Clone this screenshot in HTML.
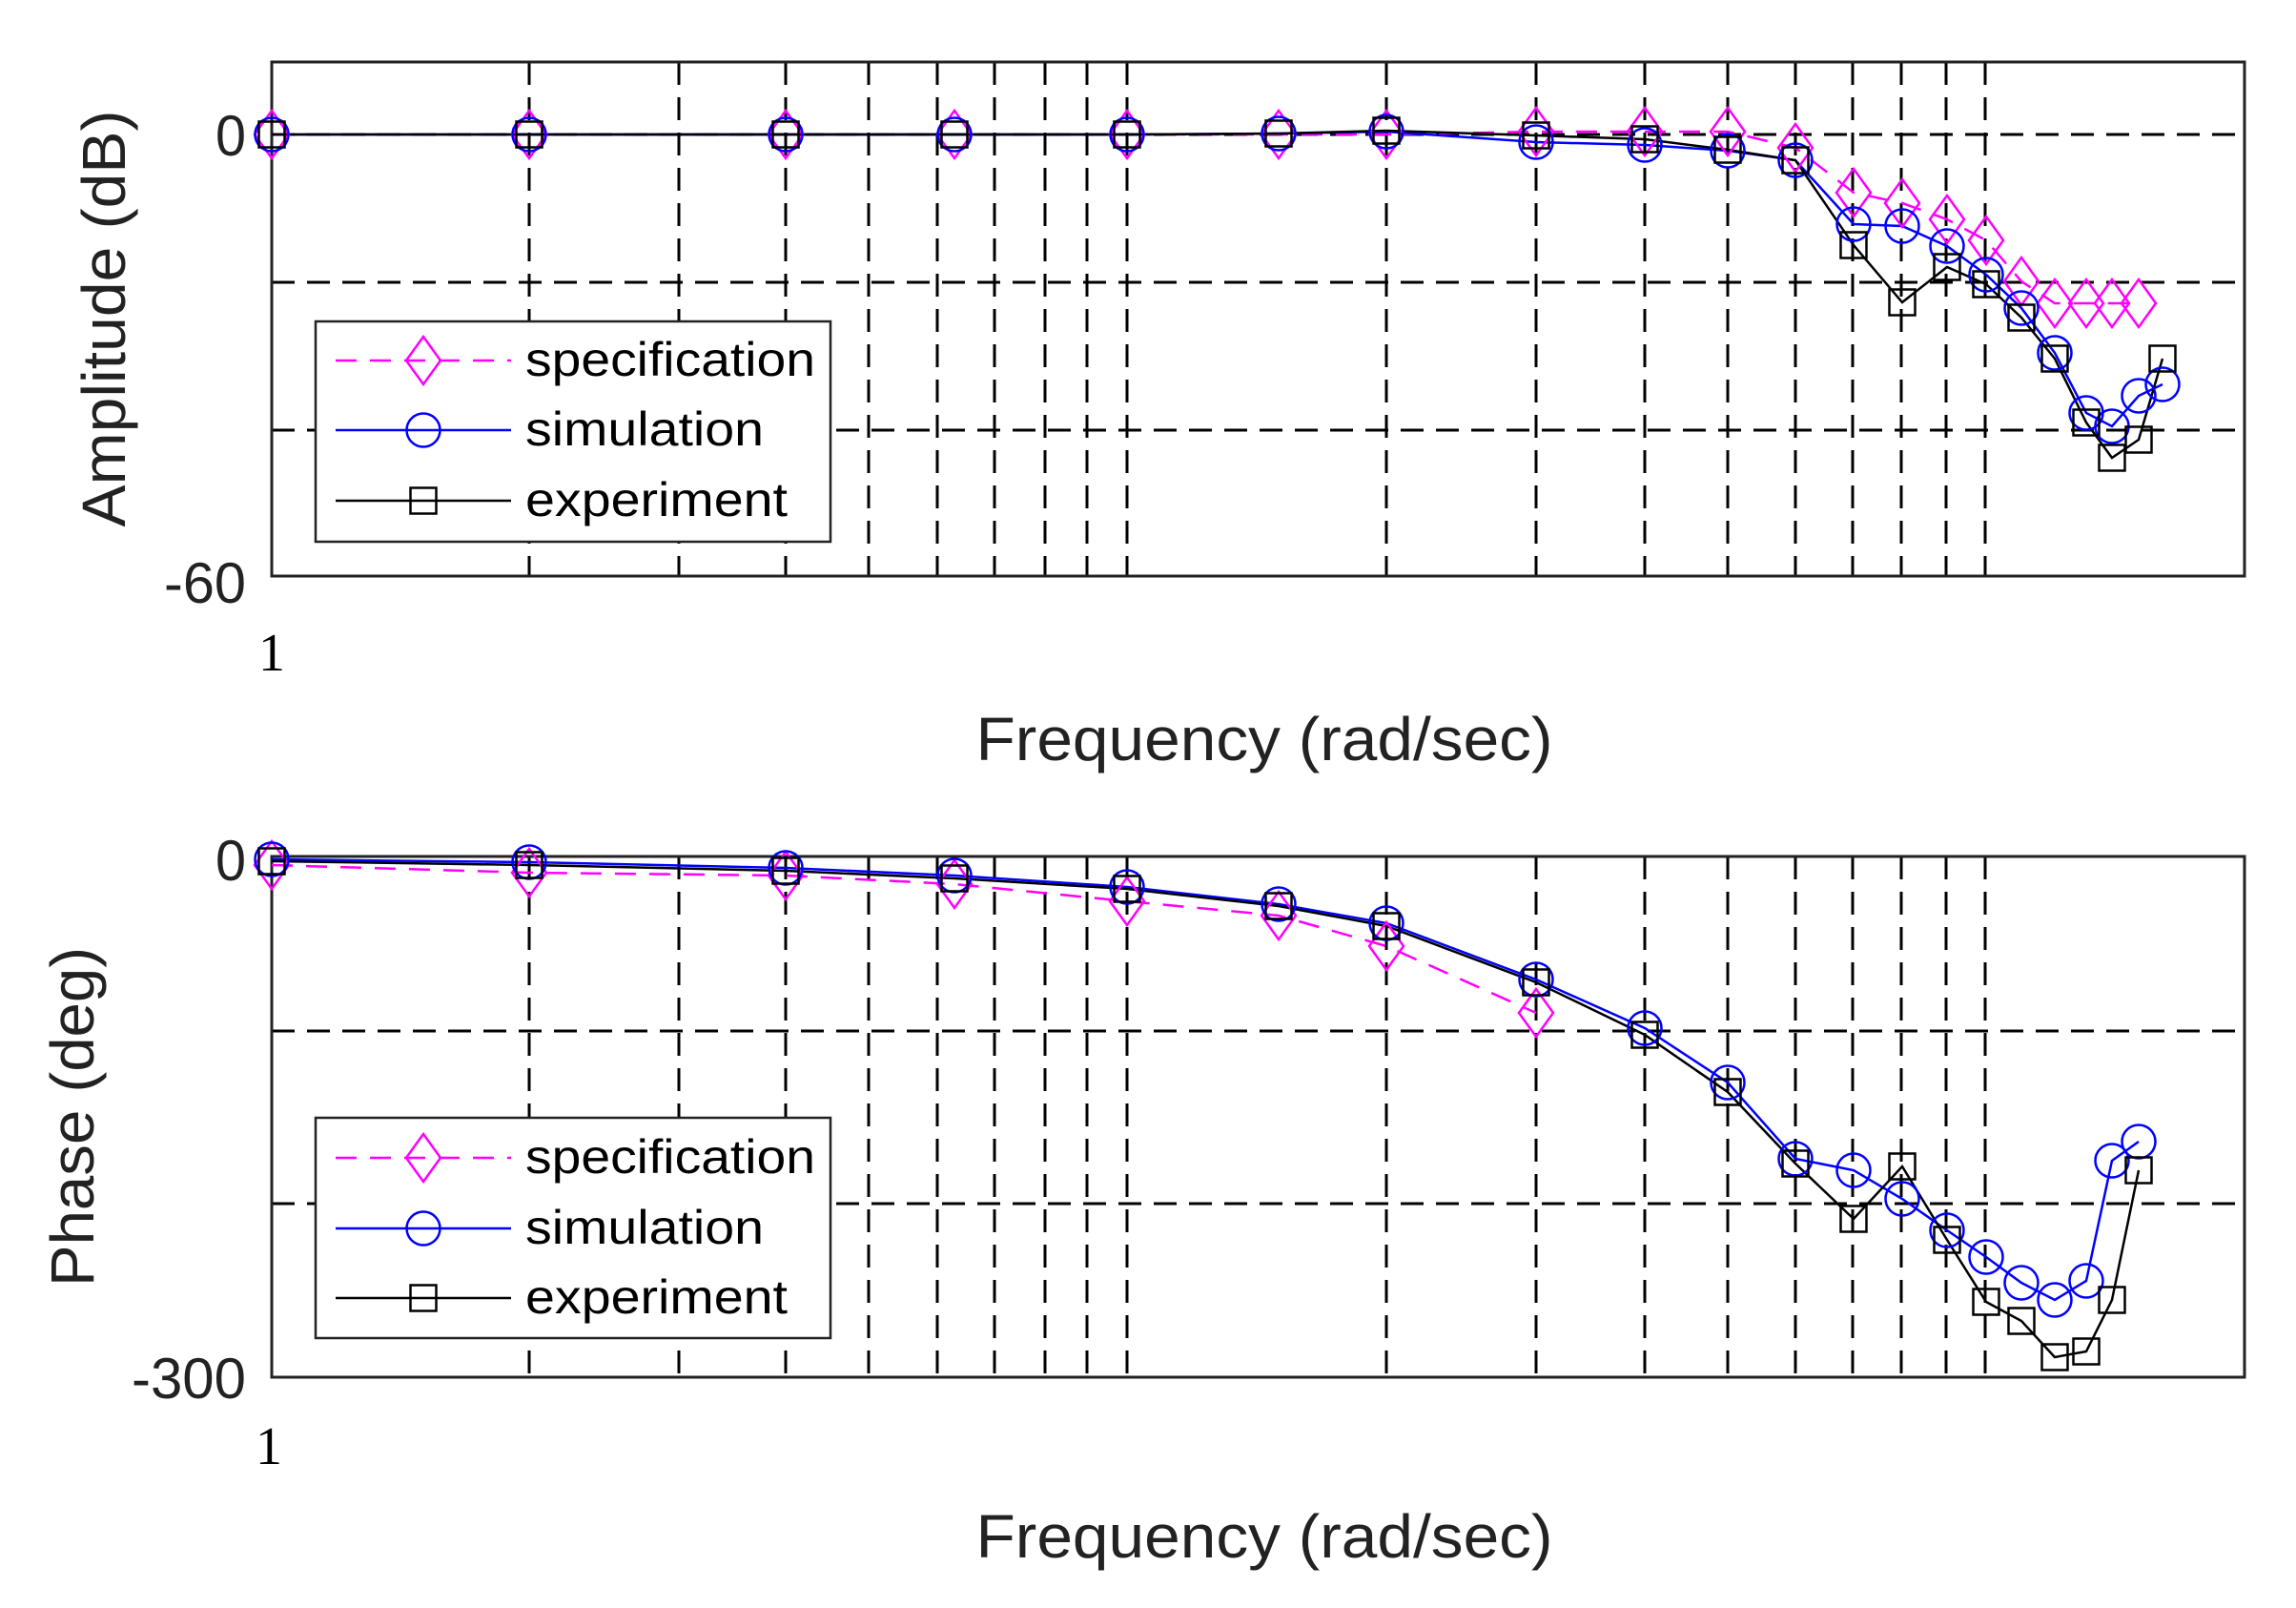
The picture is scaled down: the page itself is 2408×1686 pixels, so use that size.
<!DOCTYPE html>
<html><head><meta charset="utf-8"><style>
html,body{margin:0;padding:0;background:#fff;}
svg{display:block;}
text{font-family:"Liberation Sans",Arial,sans-serif;fill:#222;}
</style></head><body>
<svg width="2408" height="1686" viewBox="0 0 2408 1686" xmlns="http://www.w3.org/2000/svg">
<defs>
<path id="dm" d="M0,-25 L18,0 L0,25 L-18,0 Z" fill="none" stroke="#ff00ff" stroke-width="2.5"/>
<circle id="ci" r="17.5" fill="none" stroke="#0000ff" stroke-width="2.5"/>
<rect id="sq" x="-13.5" y="-13.5" width="27" height="27" fill="none" stroke="#000" stroke-width="2.5"/>
</defs>
<rect width="2408" height="1686" fill="#fff"/>

<!-- ===== TOP PLOT ===== -->
<g stroke="#000" stroke-width="3" stroke-dasharray="24 13" fill="none">
<path d="M555,65V604M712,65V604M824,65V604M911,65V604M983,65V604M1043,65V604M1096,65V604M1140,65V604M1182,65V604M1454,65V604M1611,65V604M1725,65V604M1812,65V604M1883,65V604M1943,65V604M1994,65V604M2041,65V604M2082,65V604"/>
<path d="M285,141H2354M285,296H2354M285,451H2354"/>
<path d="M555,898V1444M712,898V1444M824,898V1444M911,898V1444M983,898V1444M1043,898V1444M1096,898V1444M1140,898V1444M1182,898V1444M1454,898V1444M1611,898V1444M1725,898V1444M1812,898V1444M1883,898V1444M1943,898V1444M1994,898V1444M2041,898V1444M2082,898V1444"/>
<path d="M285,1081H2354M285,1262H2354"/>
</g>
<rect x="285" y="65" width="2069" height="539" fill="none" stroke="#222" stroke-width="3"/>
<rect x="285" y="898" width="2069" height="546" fill="none" stroke="#222" stroke-width="3"/>

<!-- amplitude series -->
<polyline fill="none" stroke="#ff00ff" stroke-width="2.5" stroke-dasharray="22 14" points="285,141 555,141 824,141 1001,141 1182,141 1341,141 1454,141 1611,138 1725,138 1812,138 1883,155 1944,202 1995,213 2042,230 2083,252 2120,295 2155,318 2188,318 2215,318 2243,318"/>
<polyline fill="none" stroke="#0000ff" stroke-width="2.5" points="285,141 555,141 824,141 1001,141 1182,141 1341,140 1454,138 1611,149 1725,152 1812,158 1883,168 1944,235 1995,237 2042,258 2083,288 2120,323 2155,370 2188,433 2215,447 2243,415 2268,403"/>
<polyline fill="none" stroke="#000" stroke-width="2.5" points="285,141 555,141 824,141 1001,141 1182,141 1341,140 1454,137 1611,142 1725,146 1812,157 1883,168 1944,257 1995,317 2042,280 2083,298 2120,333 2155,376 2188,443 2215,480 2243,461 2268,376"/>
<g>
<use href="#dm" x="285" y="141"/><use href="#dm" x="555" y="141"/><use href="#dm" x="824" y="141"/><use href="#dm" x="1001" y="141"/><use href="#dm" x="1182" y="141"/><use href="#dm" x="1341" y="141"/><use href="#dm" x="1454" y="141"/><use href="#dm" x="1611" y="138"/><use href="#dm" x="1725" y="138"/><use href="#dm" x="1812" y="138"/><use href="#dm" x="1883" y="155"/><use href="#dm" x="1944" y="202"/><use href="#dm" x="1995" y="213"/><use href="#dm" x="2042" y="230"/><use href="#dm" x="2083" y="252"/><use href="#dm" x="2120" y="295"/><use href="#dm" x="2155" y="318"/><use href="#dm" x="2188" y="318"/><use href="#dm" x="2215" y="318"/><use href="#dm" x="2243" y="318"/>
<use href="#ci" x="285" y="141"/><use href="#ci" x="555" y="141"/><use href="#ci" x="824" y="141"/><use href="#ci" x="1001" y="141"/><use href="#ci" x="1182" y="141"/><use href="#ci" x="1341" y="140"/><use href="#ci" x="1454" y="138"/><use href="#ci" x="1611" y="149"/><use href="#ci" x="1725" y="152"/><use href="#ci" x="1812" y="158"/><use href="#ci" x="1883" y="168"/><use href="#ci" x="1944" y="235"/><use href="#ci" x="1995" y="237"/><use href="#ci" x="2042" y="258"/><use href="#ci" x="2083" y="288"/><use href="#ci" x="2120" y="323"/><use href="#ci" x="2155" y="370"/><use href="#ci" x="2188" y="433"/><use href="#ci" x="2215" y="447"/><use href="#ci" x="2243" y="415"/><use href="#ci" x="2268" y="403"/>
<use href="#sq" x="285" y="141"/><use href="#sq" x="555" y="141"/><use href="#sq" x="824" y="141"/><use href="#sq" x="1001" y="141"/><use href="#sq" x="1182" y="141"/><use href="#sq" x="1341" y="140"/><use href="#sq" x="1454" y="137"/><use href="#sq" x="1611" y="142"/><use href="#sq" x="1725" y="146"/><use href="#sq" x="1812" y="157"/><use href="#sq" x="1883" y="168"/><use href="#sq" x="1944" y="257"/><use href="#sq" x="1995" y="317"/><use href="#sq" x="2042" y="280"/><use href="#sq" x="2083" y="298"/><use href="#sq" x="2120" y="333"/><use href="#sq" x="2155" y="376"/><use href="#sq" x="2188" y="443"/><use href="#sq" x="2215" y="480"/><use href="#sq" x="2243" y="461"/><use href="#sq" x="2268" y="376"/>
</g>

<!-- phase series -->
<polyline fill="none" stroke="#ff00ff" stroke-width="2.5" stroke-dasharray="22 14" points="285,907 555,915 824,918 1001,927 1182,945 1341,960 1454,992 1611,1062"/>
<polyline fill="none" stroke="#0000ff" stroke-width="2.5" points="285,901 555,904 824,910 1001,918 1182,930 1341,948 1454,968 1611,1027 1725,1078 1812,1135 1883,1215 1944,1227 1995,1257 2042,1290 2083,1318 2120,1345 2155,1363 2188,1343 2215,1217 2243,1197"/>
<polyline fill="none" stroke="#000" stroke-width="2.5" points="285,903 555,907 824,913 1001,921 1182,932 1341,950 1454,971 1611,1030 1725,1085 1812,1145 1883,1220 1944,1278 1995,1223 2042,1300 2083,1365 2120,1385 2155,1423 2188,1417 2215,1363 2243,1227"/>
<g>
<use href="#dm" x="285" y="907"/><use href="#dm" x="555" y="915"/><use href="#dm" x="824" y="918"/><use href="#dm" x="1001" y="927"/><use href="#dm" x="1182" y="945"/><use href="#dm" x="1341" y="960"/><use href="#dm" x="1454" y="992"/><use href="#dm" x="1611" y="1062"/>
<use href="#ci" x="285" y="901"/><use href="#ci" x="555" y="904"/><use href="#ci" x="824" y="910"/><use href="#ci" x="1001" y="918"/><use href="#ci" x="1182" y="930"/><use href="#ci" x="1341" y="948"/><use href="#ci" x="1454" y="968"/><use href="#ci" x="1611" y="1027"/><use href="#ci" x="1725" y="1078"/><use href="#ci" x="1812" y="1135"/><use href="#ci" x="1883" y="1215"/><use href="#ci" x="1944" y="1227"/><use href="#ci" x="1995" y="1257"/><use href="#ci" x="2042" y="1290"/><use href="#ci" x="2083" y="1318"/><use href="#ci" x="2120" y="1345"/><use href="#ci" x="2155" y="1363"/><use href="#ci" x="2188" y="1343"/><use href="#ci" x="2215" y="1217"/><use href="#ci" x="2243" y="1197"/>
<use href="#sq" x="285" y="903"/><use href="#sq" x="555" y="907"/><use href="#sq" x="824" y="913"/><use href="#sq" x="1001" y="921"/><use href="#sq" x="1182" y="932"/><use href="#sq" x="1341" y="950"/><use href="#sq" x="1454" y="971"/><use href="#sq" x="1611" y="1030"/><use href="#sq" x="1725" y="1085"/><use href="#sq" x="1812" y="1145"/><use href="#sq" x="1883" y="1220"/><use href="#sq" x="1944" y="1278"/><use href="#sq" x="1995" y="1223"/><use href="#sq" x="2042" y="1300"/><use href="#sq" x="2083" y="1365"/><use href="#sq" x="2120" y="1385"/><use href="#sq" x="2155" y="1423"/><use href="#sq" x="2188" y="1417"/><use href="#sq" x="2215" y="1363"/><use href="#sq" x="2243" y="1227"/>
</g>

<!-- legends -->
<g>
<rect x="331" y="337" width="540" height="231" fill="#fff" stroke="#222" stroke-width="2.5"/>
<line x1="352" y1="378" x2="536" y2="378" stroke="#ff00ff" stroke-width="2.5" stroke-dasharray="22 14"/>
<use href="#dm" x="444" y="378"/>
<line x1="352" y1="451" x2="536" y2="451" stroke="#0000ff" stroke-width="2.5"/>
<use href="#ci" x="444" y="451"/>
<line x1="352" y1="525" x2="536" y2="525" stroke="#000" stroke-width="2.5"/>
<use href="#sq" x="444" y="525"/>
<text x="551" y="394" font-size="50" textLength="304" lengthAdjust="spacingAndGlyphs" style="fill:#000">specification</text>
<text x="551" y="467" font-size="50" textLength="250" lengthAdjust="spacingAndGlyphs" style="fill:#000">simulation</text>
<text x="551" y="541" font-size="50" textLength="275" lengthAdjust="spacingAndGlyphs" style="fill:#000">experiment</text>
</g>
<g>
<rect x="331" y="1172" width="540" height="231" fill="#fff" stroke="#222" stroke-width="2.5"/>
<line x1="352" y1="1214" x2="536" y2="1214" stroke="#ff00ff" stroke-width="2.5" stroke-dasharray="22 14"/>
<use href="#dm" x="444" y="1214"/>
<line x1="352" y1="1288" x2="536" y2="1288" stroke="#0000ff" stroke-width="2.5"/>
<use href="#ci" x="444" y="1288"/>
<line x1="352" y1="1361" x2="536" y2="1361" stroke="#000" stroke-width="2.5"/>
<use href="#sq" x="444" y="1361"/>
<text x="551" y="1230" font-size="50" textLength="304" lengthAdjust="spacingAndGlyphs" style="fill:#000">specification</text>
<text x="551" y="1304" font-size="50" textLength="250" lengthAdjust="spacingAndGlyphs" style="fill:#000">simulation</text>
<text x="551" y="1377" font-size="50" textLength="275" lengthAdjust="spacingAndGlyphs" style="fill:#000">experiment</text>
</g>

<!-- tick labels -->
<text x="258" y="163" font-size="60" text-anchor="end" textLength="32" lengthAdjust="spacingAndGlyphs">0</text>
<text x="258" y="632" font-size="60" text-anchor="end" textLength="86" lengthAdjust="spacingAndGlyphs">-60</text>
<text x="285" y="703" font-size="56" text-anchor="middle" style="font-family:'Liberation Serif',serif;fill:#000">1</text>
<text x="258" y="923" font-size="60" text-anchor="end" textLength="32" lengthAdjust="spacingAndGlyphs">0</text>
<text x="258" y="1466" font-size="60" text-anchor="end" textLength="120" lengthAdjust="spacingAndGlyphs">-300</text>
<text x="282" y="1535" font-size="56" text-anchor="middle" style="font-family:'Liberation Serif',serif;fill:#000">1</text>

<!-- axis labels -->
<text transform="translate(131,334) rotate(-90)" font-size="64" text-anchor="middle" textLength="437" lengthAdjust="spacingAndGlyphs">Amplitude (dB)</text>
<text transform="translate(98,1171) rotate(-90)" font-size="64" text-anchor="middle" textLength="356" lengthAdjust="spacingAndGlyphs">Phase (deg)</text>
<text x="1326" y="797" font-size="64" text-anchor="middle" textLength="605" lengthAdjust="spacingAndGlyphs">Frequency (rad/sec)</text>
<text x="1326" y="1633" font-size="64" text-anchor="middle" textLength="605" lengthAdjust="spacingAndGlyphs">Frequency (rad/sec)</text>
</svg>
</body></html>
